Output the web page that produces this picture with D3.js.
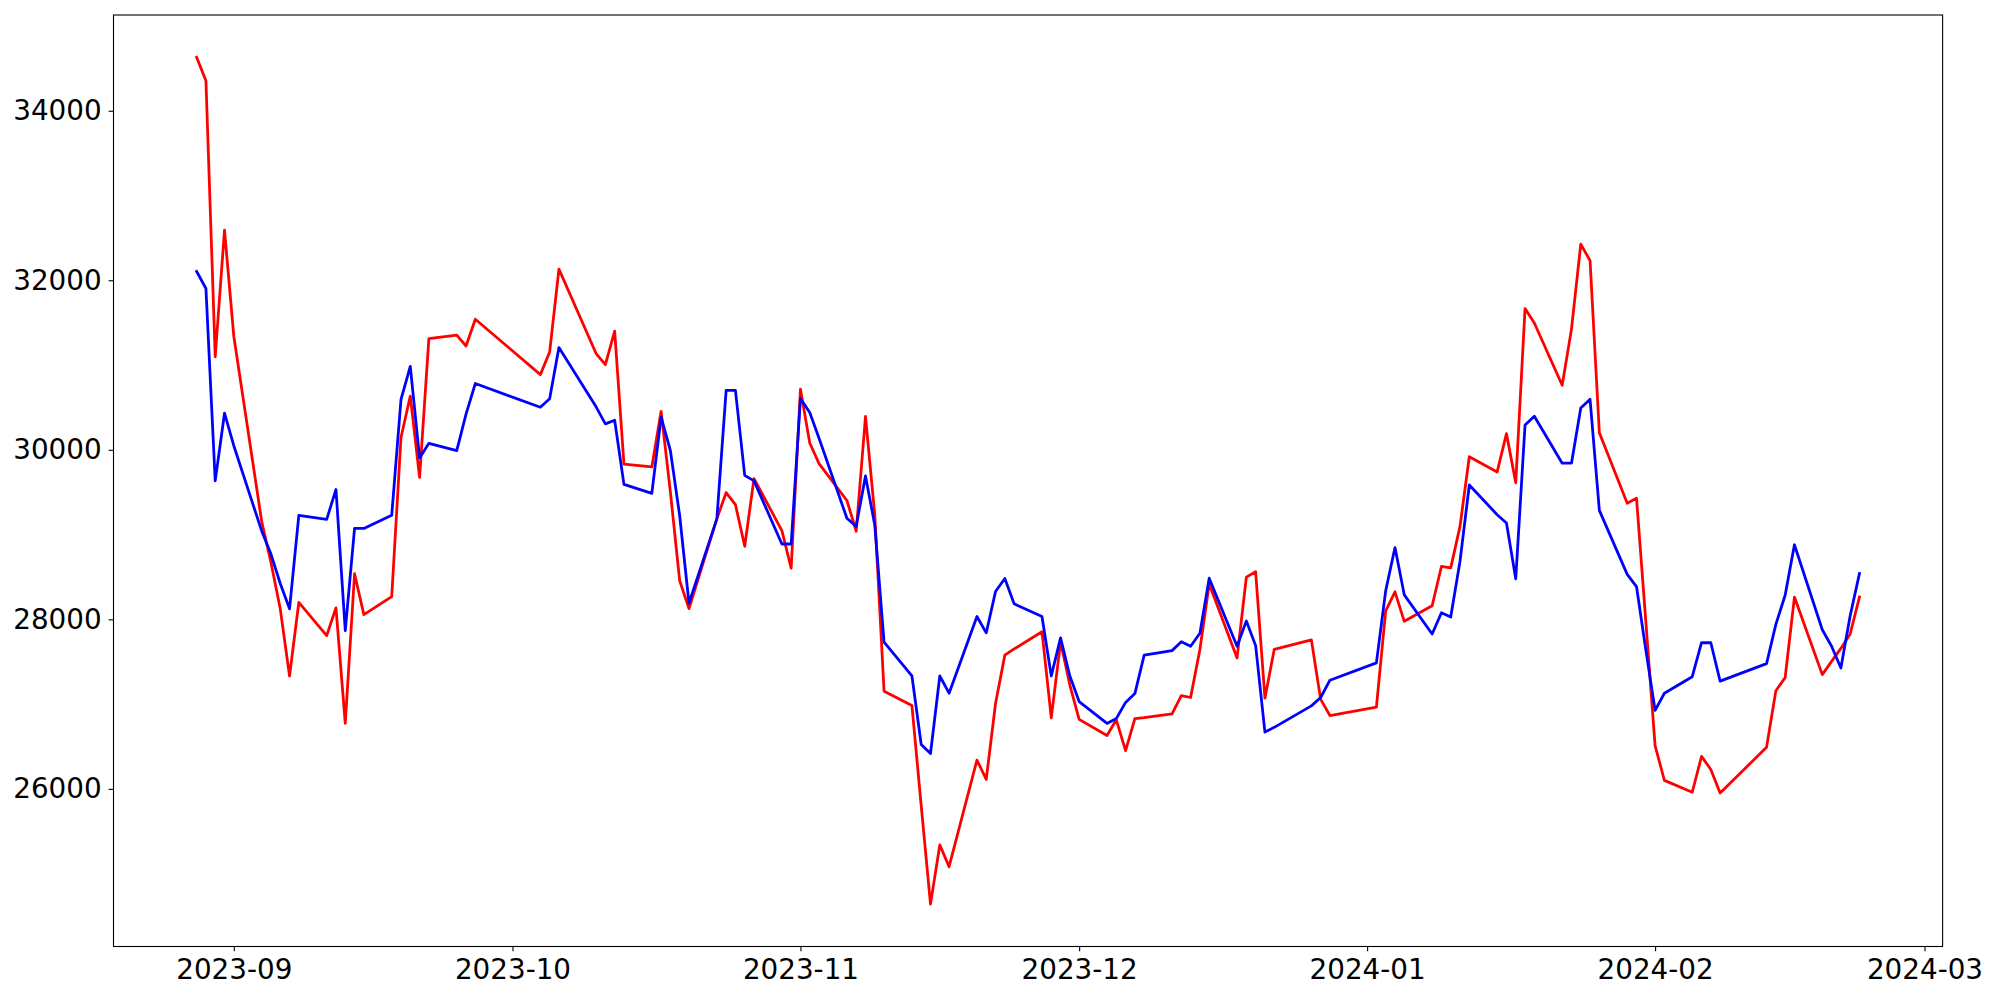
<!DOCTYPE html>
<html>
<head>
<meta charset="utf-8">
<script src="https://cdn.jsdelivr.net/npm/d3@7"></script>
<style>
  html, body { margin: 0; padding: 0; background: #ffffff; }
  svg { display: block; }
  text { font-family: "DejaVu Sans", sans-serif; }
</style>
</head>
<body>
<svg id="chart" width="2000" height="1000"></svg>
<script>
// ---- data ----
const dates = [
  "2023-08-28","2023-08-29","2023-08-30","2023-08-31","2023-09-01",
  "2023-09-04","2023-09-05","2023-09-06","2023-09-07","2023-09-08",
  "2023-09-11","2023-09-12","2023-09-13","2023-09-14","2023-09-15",
  "2023-09-18","2023-09-19","2023-09-20","2023-09-21","2023-09-22",
  "2023-09-25","2023-09-26","2023-09-27",
  "2023-10-04","2023-10-05","2023-10-06",
  "2023-10-10","2023-10-11","2023-10-12","2023-10-13",
  "2023-10-16","2023-10-17","2023-10-18","2023-10-19","2023-10-20",
  "2023-10-23","2023-10-24","2023-10-25","2023-10-26","2023-10-27",
  "2023-10-30","2023-10-31","2023-11-01","2023-11-02","2023-11-03",
  "2023-11-06","2023-11-07","2023-11-08","2023-11-09","2023-11-10",
  "2023-11-13","2023-11-14","2023-11-15","2023-11-16","2023-11-17",
  "2023-11-20","2023-11-21","2023-11-22","2023-11-23","2023-11-24",
  "2023-11-27","2023-11-28","2023-11-29","2023-11-30","2023-12-01",
  "2023-12-04","2023-12-05","2023-12-06","2023-12-07","2023-12-08",
  "2023-12-11","2023-12-12","2023-12-13","2023-12-14","2023-12-15",
  "2023-12-18","2023-12-19","2023-12-20","2023-12-21","2023-12-22",
  "2023-12-26","2023-12-27","2023-12-28",
  "2024-01-02","2024-01-03","2024-01-04","2024-01-05",
  "2024-01-08","2024-01-09","2024-01-10","2024-01-11","2024-01-12",
  "2024-01-15","2024-01-16","2024-01-17","2024-01-18","2024-01-19",
  "2024-01-22","2024-01-23","2024-01-24","2024-01-25","2024-01-26",
  "2024-01-29","2024-01-30","2024-01-31","2024-02-01","2024-02-02",
  "2024-02-05","2024-02-06","2024-02-07","2024-02-08",
  "2024-02-13","2024-02-14","2024-02-15","2024-02-16",
  "2024-02-19","2024-02-20","2024-02-21","2024-02-22","2024-02-23"
];

const redValues = [
  34630, 34355, 31098, 32592, 31340,
  29158, 28670, 28124, 27332, 28199,
  27808, 28136, 26774, 28538, 28055,
  28268, 30146, 30634, 29674, 31312,
  31352, 31225, 31541,
  30887, 31153, 32131,
  31136, 31004, 31401, 29830,
  29798, 30454, 29500, 28455, 28126,
  29185, 29496, 29354, 28862, 29661,
  29047, 28603, 30715, 30080, 29837,
  29402, 29039, 30393, 29232, 27152,
  26983, 25800, 24640, 25339, 25082,
  26340, 26112, 27007, 27578, 27651,
  27854, 26838, 27732, 27225, 26820,
  26630, 26815, 26452, 26829, 26840,
  26884, 27100, 27078, 27645, 28416,
  27545, 28498, 28561, 27070, 27645,
  27758, 27056, 26865,
  26965, 28099, 28325, 27977,
  28160, 28624, 28607, 29097, 29918,
  29739, 30191, 29611, 31666, 31496,
  30761, 31424, 32426, 32232, 30201,
  29369, 29430, 27980, 26511, 26100,
  25960, 26383, 26228, 25951,
  26490, 27158, 27313, 28263,
  27348, 27504, 27657, 27827, 28263
];

const blueValues = [
  32104, 31903, 29634, 30432, 30048,
  29043, 28770, 28423, 28124, 29227,
  29180, 29532, 27866, 29072, 29072,
  29227, 30594, 30984, 29904, 30076,
  29990, 30422, 30782,
  30502, 30602, 31206,
  30507, 30306, 30349, 29592,
  29486, 30385, 29989, 29222, 28190,
  29185, 30702, 30702, 29698, 29634,
  28889, 28889, 30605, 30440, 30137,
  29193, 29097, 29692, 29112, 27732,
  27332, 26524, 26417, 27332, 27129,
  28033, 27840, 28328, 28482, 28183,
  28033, 27332, 27781, 27332, 27030,
  26772, 26829, 27020, 27124, 27577,
  27631, 27736, 27682, 27836, 28485,
  27682, 27981, 27690, 26670, 26726,
  26979, 27078, 27282,
  27486, 28338, 28847, 28289,
  27827, 28078, 28027, 28685, 29585,
  29234, 29137, 28479, 30293, 30396,
  29842, 29842, 30494, 30596, 29286,
  28531, 28387, 27640, 26927, 27128,
  27323, 27724, 27724, 27271,
  27477, 27940, 28284, 28880,
  27877, 27683, 27426, 28042, 28541
];

const xTickLabels = ["2023-09","2023-10","2023-11","2023-12","2024-01","2024-02","2024-03"];
const yTickValues = [26000, 28000, 30000, 32000, 34000];

// ---- layout ----
const W = 2000, H = 1000;
const plot = { left: 113.5, right: 1942.6, top: 15, bottom: 946.5 };

const parse = d3.timeParse("%Y-%m-%d");
const parseMonth = d3.timeParse("%Y-%m");
const dateObjs = dates.map(parse);

const t0 = d3.min(dateObjs), t1 = d3.max(dateObjs);
const tPad = (t1 - t0) * 0.05;
const x = d3.scaleTime()
  .domain([new Date(+t0 - tPad), new Date(+t1 + tPad)])
  .range([plot.left, plot.right]);

const allVals = redValues.concat(blueValues);
const vMin = d3.min(allVals), vMax = d3.max(allVals);
const vPad = (vMax - vMin) * 0.05;
const y = d3.scaleLinear()
  .domain([vMin - vPad, vMax + vPad])
  .range([plot.bottom, plot.top]);

const svg = d3.select("#chart");
svg.append("rect").attr("width", W).attr("height", H).attr("fill", "#ffffff");

const tickLen = 4.86, fontPx = 27.8;

// lines
const line = d3.line()
  .x((d, i) => x(dateObjs[i]))
  .y(d => y(d));

svg.append("path")
  .datum(redValues)
  .attr("fill", "none")
  .attr("stroke", "#ff0000")
  .attr("stroke-width", 2.78)
  .attr("stroke-linejoin", "round")
  .attr("stroke-linecap", "square")
  .attr("d", line);

svg.append("path")
  .datum(blueValues)
  .attr("fill", "none")
  .attr("stroke", "#0000ff")
  .attr("stroke-width", 2.78)
  .attr("stroke-linejoin", "round")
  .attr("stroke-linecap", "square")
  .attr("d", line);

// axes
const xAxis = d3.axisBottom(x)
  .tickValues(xTickLabels.map(parseMonth))
  .tickFormat(d3.timeFormat("%Y-%m"))
  .tickSize(tickLen)
  .tickPadding(8);

const yAxis = d3.axisLeft(y)
  .tickValues(yTickValues)
  .tickFormat(d3.format("d"))
  .tickSize(tickLen)
  .tickPadding(7);

const gx = svg.append("g")
  .attr("transform", `translate(0,${plot.bottom})`)
  .call(xAxis);
const gy = svg.append("g")
  .attr("transform", `translate(${plot.left},0)`)
  .call(yAxis);

[gx, gy].forEach(g => {
  g.select(".domain").remove();
  g.selectAll(".tick line").attr("stroke", "#000").attr("stroke-width", 1.1);
  g.selectAll(".tick text")
    .attr("fill", "#000")
    .style("font-family", "'DejaVu Sans', sans-serif")
    .style("font-size", fontPx + "px");
});

// spines (frame)
svg.append("rect")
  .attr("x", plot.left)
  .attr("y", plot.top)
  .attr("width", plot.right - plot.left)
  .attr("height", plot.bottom - plot.top)
  .attr("fill", "none")
  .attr("stroke", "#000")
  .attr("stroke-width", 1.1);
</script>
</body>
</html>
